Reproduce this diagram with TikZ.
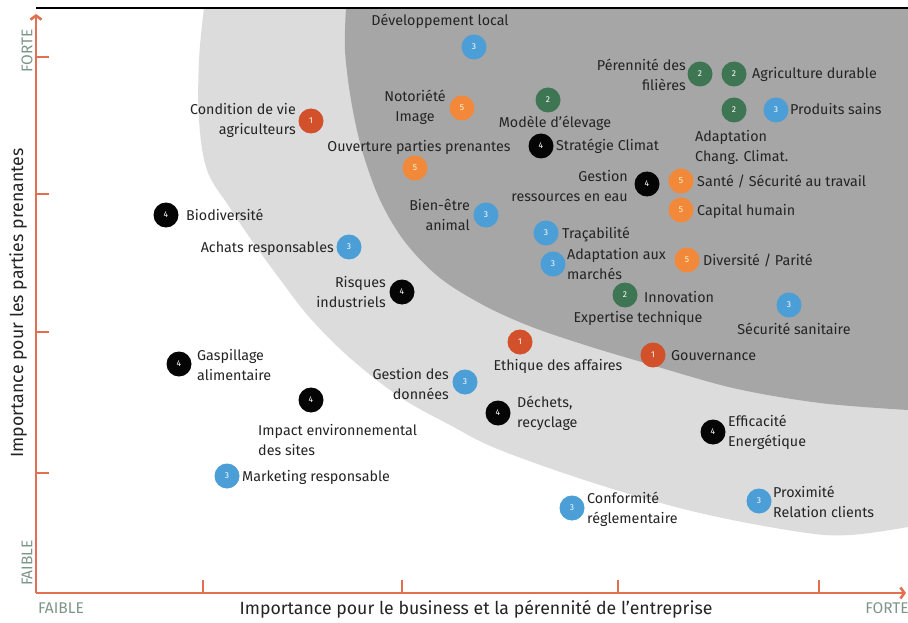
\documentclass[tikz,border=0pt]{standalone}
\usepackage{fontspec}
\setmainfont{Fira Sans}
\usetikzlibrary{arrows.meta}
\definecolor{cRed}{RGB}{210,80,42}
\definecolor{cGreen}{RGB}{62,117,83}
\definecolor{cBlue}{RGB}{75,158,214}
\definecolor{cOrange}{RGB}{242,137,58}
\definecolor{cBlack}{RGB}{5,5,5}
\definecolor{axisc}{RGB}{224,112,80}
\definecolor{txt}{RGB}{36,36,36}
\definecolor{axl}{RGB}{125,150,138}
\definecolor{lightbg}{RGB}{220,220,220}
\definecolor{darkbg}{RGB}{166,166,166}
\tikzset{
  bub/.style={circle, minimum size=25pt, inner sep=0pt, text=white, font=\fontsize{8.5}{8.5}\selectfont},
  cA/.style={bub, fill=cRed},
  cB/.style={bub, fill=cGreen},
  cC/.style={bub, fill=cBlue},
  cD/.style={bub, fill=cBlack},
  cE/.style={bub, fill=cOrange, text=white!85!yellow},
  lab/.style={text=txt, inner sep=0pt, font=\fontsize{14.3}{20}\selectfont},
  axlab/.style={text=axl, inner sep=0pt, font=\fontsize{15.5}{16}\selectfont},
  ttl/.style={text=txt, inner sep=0pt, font=\fontsize{17.7}{20}\selectfont},
  axisline/.style={draw=axisc, line width=2.6pt},
  tick/.style={draw=axisc, line width=2.4pt}
}
\begin{document}
\begin{tikzpicture}[x=1pt,y=-1pt]
\useasboundingbox (0,0) rectangle (908,623);
\fill[white] (0,0) rectangle (908,623);
% background zones
\fill[lightbg] plot[smooth, tension=0.6] coordinates {(204,8) (199,60) (199,120) (207,170) (228,205) (255,245) (282,282) (310,318) (350,358) (400,397) (450,425) (500,450) (600,485) (700,513) (800,532) (850,535) (908,527)} -- (908,8) -- cycle;
\fill[darkbg] plot[smooth, tension=0.55] coordinates {(346,8) (345,50) (351,100) (362,150) (380,200) (405,242) (440,278) (485,306) (532,327) (585,345) (645,363) (733,388) (820,403) (908,410)} -- (908,8) -- cycle;
% frame top
\draw[black, line width=1.3pt] (36,8) -- (908,8);
% axes
\coordinate (O) at (36,593);
\coordinate (Ytop) at (36,14);
\coordinate (Xend) at (906,593);
\draw[axisline, -{Straight Barb[length=4pt,width=11pt]}] (O) -- (Ytop);
\draw[axisline, -{Straight Barb[length=4pt,width=11pt]}] (O) -- (Xend);
\foreach \yy in {57,194,332,473} \draw[tick] (36,\yy) -- (49,\yy);
\foreach \xx in {203,402,618,819} \draw[tick] (\xx,593) -- (\xx,580);
\node[axlab, rotate=90] (yF) at (27,51) {FORTE};
\node[axlab, rotate=90] (yW) at (27,563) {FAIBLE};
\node[axlab] (xW) at (61,608) {FAIBLE};
\node[axlab] (xF) at (887,608) {FORTE};
\node[ttl, rotate=90] (yT) at (18,303) {Importance pour les parties prenantes};
\node[ttl] (xT) at (476,609) {Importance pour le business et la pérennité de l’entreprise};
% items
\node[cC] (dev) at (474,47) {3};
\node[lab, anchor=base] (devL) at (440,26) {Développement local};
\node[cA] (cond) at (311,121) {1};
\node[lab, anchor=east, align=right] (condL) at (296,120) {Condition de vie\\agriculteurs};
\node[cE] (noto) at (462,108) {5};
\node[lab, align=center] (notoL) at (415,107) {Notoriété\\Image};
\node[cB] (mod) at (548,100) {2};
\node[lab, anchor=base] (modL) at (555,128) {Modèle d’élevage};
\node[cE] (ouv) at (415,168) {5};
\node[lab, anchor=base] (ouvL) at (419,152) {Ouverture parties prenantes};
\node[cD] (strat) at (541,146) {4};
\node[lab, anchor=base west] (stratL) at (556,151) {Stratégie Climat};
\node[cB] (per) at (700,74) {2};
\node[lab, anchor=east, align=right] (perL) at (686,75) {Pérennité des\\filières};
\node[cB] (agri) at (734,74) {2};
\node[lab, anchor=base west] (agriL) at (752,79) {Agriculture durable};
\node[cB] (adapt) at (734,110) {2};
\node[lab, anchor=west, align=left] (adaptL) at (695,147) {Adaptation\\Chang. Climat.};
\node[cC] (prod) at (776,110) {3};
\node[lab, anchor=base west] (prodL) at (790,115) {Produits sains};
\node[cD] (gest) at (647,184) {4};
\node[lab, anchor=east, align=right] (gestL) at (628,186) {Gestion\\ressources en eau};
\node[cE] (sante) at (681,181) {5};
\node[lab, anchor=base west] (santeL) at (697,186) {Santé / Sécurité au travail};
\node[cE] (cap) at (681,210) {5};
\node[lab, anchor=base west] (capL) at (697,215) {Capital humain};
\node[cD] (bio) at (166,215) {4};
\node[lab, anchor=base west] (bioL) at (186,220) {Biodiversité};
\node[cC] (bien) at (486,215) {3};
\node[lab, anchor=east, align=right] (bienL) at (470,215) {Bien-être\\animal};
\node[cC] (achats) at (349,247) {3};
\node[lab, anchor=base east] (achatsL) at (334,252) {Achats responsables};
\node[cC] (trac) at (546,233) {3};
\node[lab, anchor=base west] (tracL) at (562,238) {Traçabilité};
\node[cC] (adm) at (553,264) {3};
\node[lab, anchor=west, align=left] (admL) at (567,264) {Adaptation aux\\marchés};
\node[cE] (div) at (687,260) {5};
\node[lab, anchor=base west] (divL) at (703,265) {Diversité / Parité};
\node[cD] (risq) at (402,292) {4};
\node[lab, anchor=east, align=right] (risqL) at (386,292) {Risques\\industriels};
\node[cB] (innov) at (625,295) {2};
\node[lab, anchor=base west] (innovL) at (644,302) {Innovation};
\node[lab, anchor=base] (innovL2) at (638,322) {Expertise technique};
\node[cC] (secu) at (789,305) {3};
\node[lab, anchor=base] (secuL) at (794,334) {Sécurité sanitaire};
\node[cA] (eth) at (520,342) {1};
\node[lab, anchor=base] (ethL) at (558,370) {Ethique des affaires};
\node[cA] (gouv) at (653,355) {1};
\node[lab, anchor=base west] (gouvL) at (671,360) {Gouvernance};
\node[cD] (gasp) at (179,364) {4};
\node[lab, anchor=west, align=left] (gaspL) at (197,365) {Gaspillage\\alimentaire};
\node[cC] (gdon) at (465,382) {3};
\node[lab, anchor=east, align=right] (gdonL) at (449,384) {Gestion des\\données};
\node[cD] (impact) at (311,400) {4};
\node[lab, anchor=west, align=left] (impactL) at (258,440) {Impact environnemental\\des sites};
\node[cD] (dech) at (498,413) {4};
\node[lab, anchor=west, align=left] (dechL) at (517,413) {Déchets,\\recyclage};
\node[cD] (effi) at (713,432) {4};
\node[lab, anchor=west, align=left] (effiL) at (728,432) {Efficacité\\Energétique};
\node[cC] (mark) at (227,476) {3};
\node[lab, anchor=base west] (markL) at (242,481) {Marketing responsable};
\node[cC] (conf) at (572,508) {3};
\node[lab, anchor=west, align=left] (confL) at (587,509) {Conformité\\réglementaire};
\node[cC] (prox) at (759,501) {3};
\node[lab, anchor=west, align=left] (proxL) at (773,502) {Proximité\\Relation clients};
\end{tikzpicture}
\end{document}
